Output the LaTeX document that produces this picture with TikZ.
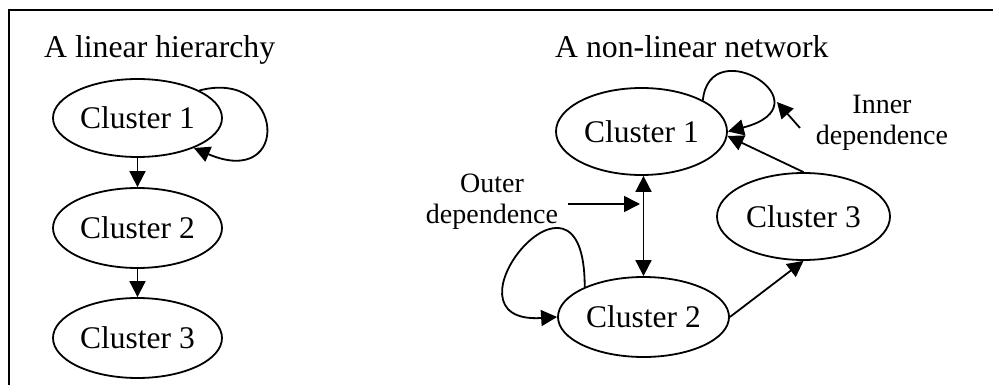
\documentclass[tikz,border=0pt]{standalone}
\usepackage{fontspec}
\setmainfont{Liberation Serif}
\usetikzlibrary{shapes.geometric,arrows.meta}
\begin{document}
\begin{tikzpicture}[x=1pt,y=-1pt,
  clus/.style={draw,ellipse,line width=1.8pt,inner sep=0pt,font=\fontsize{31.5}{36}\selectfont},
  arr/.style={line width=1.8pt,-{Triangle[length=16pt,width=16pt]}},
  darr/.style={line width=1.8pt,{Triangle[length=16pt,width=16pt]}-{Triangle[length=16pt,width=16pt]}},
  ttl/.style={anchor=base west,inner sep=0pt,font=\fontsize{31.75}{36}\selectfont},
  lbl/.style={align=center,inner sep=0pt,font=\fontsize{28}{31}\selectfont}]
\useasboundingbox (0,0) rectangle (993,385);
\draw[line width=2.4pt] (993,10) -- (9,10) -- (9,385);
% left
\node[ttl] (t1) at (44,58) {A linear hierarchy};
\node[clus,minimum width=169pt,minimum height=78pt] (c1) at (137.5,118) {Cluster 1};
\node[clus,minimum width=169pt,minimum height=80pt] (c2) at (137.5,228) {Cluster 2};
\node[clus,minimum width=169pt,minimum height=80pt] (c3) at (137.5,338) {Cluster 3};
\draw[arr] (c1.south) -- (c2.north);
\draw[arr] (c2.south) -- (c3.north);
\draw[arr] (c1.24) .. controls (285,68) and (292,190) .. (c1.-28);
% right
\node[ttl] (t2) at (555,58) {A non-linear network};
\node[clus,minimum width=171pt,minimum height=87pt] (r1) at (641.5,131.5) {Cluster 1};
\node[clus,minimum width=171pt,minimum height=80pt] (r2) at (643.5,317) {Cluster 2};
\node[clus,minimum width=173pt,minimum height=87pt] (r3) at (803.5,216.5) {Cluster 3};
\draw[darr] (r2.north |- r1.south) -- (r2.north);
\node[lbl] (outer) at (492,202) {Outer\\dependence};
\draw[arr] (568,204) -- (640,204);
\draw[arr] (r2.153) .. controls (585,135) and (432,325) .. (r2.west);
\draw[arr] (r1.27) .. controls (710,30) and (830,105) .. (r1.east);
\draw[arr] (r3.north) -- (r1.-3);
\draw[arr] (r2.east) -- (r3.south);
\node[lbl] (inner) at (882,123) {Inner\\dependence};
\coordinate (ia) at (800,128);
\coordinate (ib) at (777,102);
\draw[arr] (ia) -- (ib);
\end{tikzpicture}
\end{document}
